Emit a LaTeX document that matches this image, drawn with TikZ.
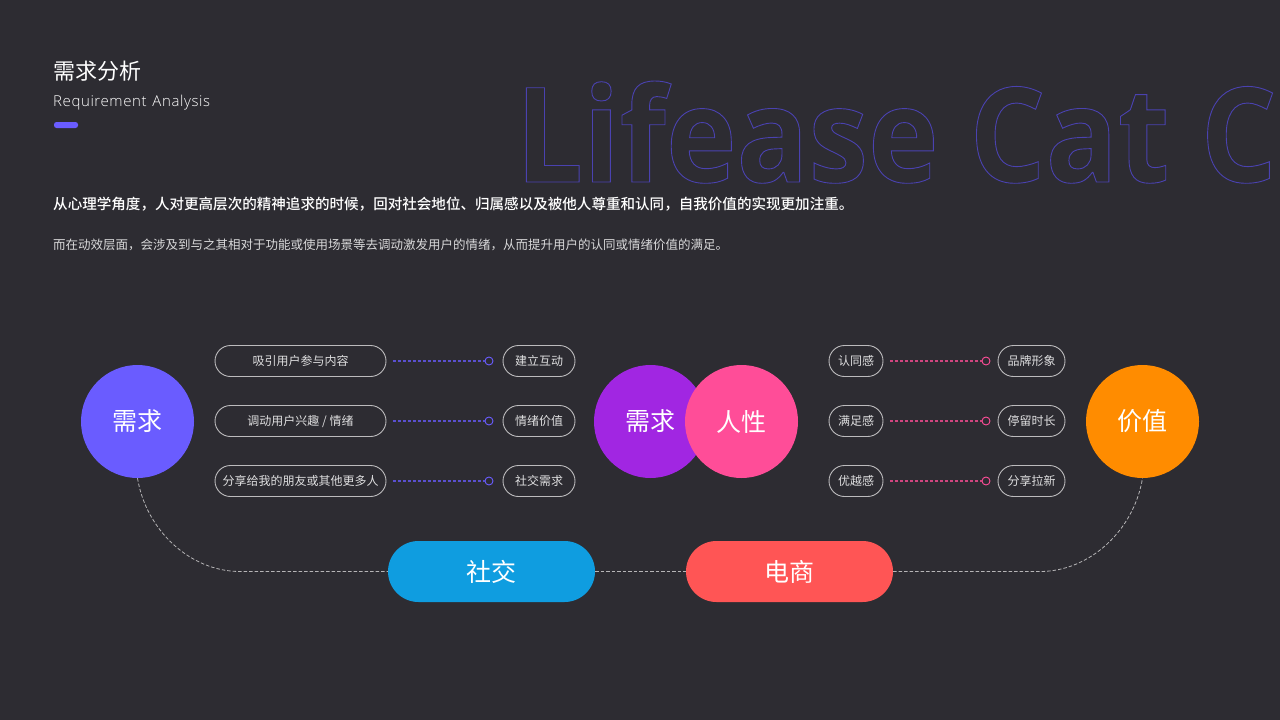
\documentclass[tikz,border=0pt]{standalone}
\usepackage{fontspec}
\setmainfont{Open Sans}
\newfontfamily\cjk{Noto Sans CJK SC}
\newfontfamily\cjkmed{Noto Sans CJK SC Medium}
\newfontfamily\latinlight[WordSpace=1.3,LetterSpace=4]{Open Sans Light}
\newfontfamily\bigfont[FakeStretch=0.905]{Open Sans Bold}
\usetikzlibrary{positioning}
\definecolor{bgdark}{HTML}{2D2C32}
\definecolor{violetblue}{HTML}{6A5CFF}
\definecolor{dashviolet}{HTML}{5A50D0}
\definecolor{purplec}{HTML}{A126E2}
\definecolor{pinkc}{HTML}{FF4D98}
\definecolor{dashpink}{HTML}{D0457F}
\definecolor{orangec}{HTML}{FF8C00}
\definecolor{bluec}{HTML}{0F9DE0}
\definecolor{redc}{HTML}{FF5555}
\definecolor{ghost}{HTML}{4A42B0}
\tikzset{
  ball/.style={circle,minimum size=113pt,inner sep=0pt,text=white,font=\cjk\fontsize{25}{30}\selectfont},
  capsule/.style={rounded corners=30.5pt,minimum width=207pt,minimum height=61pt,inner sep=0pt,text=white,font=\cjk\fontsize{25}{30}\selectfont},
  tag/.style={draw=white!68!bgdark,line width=0.9pt,rounded corners=15.5pt,minimum height=31pt,inner sep=0pt,text=white!85!bgdark,font=\cjk\fontsize{12}{14}\selectfont},
  dot/.style={circle,draw,line width=0.9pt,minimum size=8pt,inner sep=0pt},
  dashlink/.style={line width=1.1pt,dash pattern=on 3pt off 2pt},
  trail/.style={white!65!bgdark,line width=0.8pt,dash pattern=on 3.5pt off 2pt}
}
\begin{document}
\begin{tikzpicture}[x=1pt,y=-1pt]
\fill [bgdark] (0,0) rectangle (1280,720);
\useasboundingbox (0,0) rectangle (1280,720);
% header
\node (headtitle) [anchor=west,inner sep=0pt,text=white,font=\cjk\fontsize{22}{26}\selectfont] at (53,71) {需求分析};
\node (headsub) [anchor=west,inner sep=0pt,text=white,font=\latinlight\fontsize{15}{18}\selectfont] at (53,103) {Requirement Analysis};
\fill [violetblue,rounded corners=2.5pt] (54,122) rectangle (78,128);
\node (ghosttext) [anchor=base west,inner sep=0pt,text=ghost,font=\bigfont\fontsize{132}{140}\selectfont] at (515.5,182) {\special{pdf:code 1 Tr 0.9 w}Lifease Cat C\special{pdf:code 0 Tr}};
\node (bodyone) [anchor=west,inner sep=0pt,text=white,font=\cjkmed\fontsize{14.55}{18}\selectfont] at (53,204) {从心理学角度，人对更高层次的精神追求的时候，回对社会地位、归属感以及被他人尊重和认同，自我价值的实现更加注重。};
\node (bodytwo) [anchor=west,inner sep=0pt,text=white!82!bgdark,font=\cjk\fontsize{12.5}{16}\selectfont] at (53,244.5) {而在动效层面，会涉及到与之其相对于功能或使用场景等去调动激发用户的情绪，从而提升用户的认同或情绪价值的满足。};
% dashed trail below
\node (social) [capsule,fill=bluec] at (491.5,571.5) {社交};
\node (shop) [capsule,fill=redc] at (789.5,571.5) {电商};
\node (need) [ball,fill=violetblue] at (137.5,421.5) {需求};
\node (needb) [ball,fill=purplec] at (650.5,421.5) {需求};
\node (human) [ball,fill=pinkc] at (741.5,421.5) {人性};
\node (worth) [ball,fill=orangec] at (1142.5,421.5) {价值};
\draw [trail] (need.south) .. controls (146,530) and (190,571.5) .. (240,571.5) -- (social.west);
\draw [trail] (social.east) -- (shop.west);
\draw [trail] (shop.east) -- (1040,571.5) .. controls (1090,571.5) and (1134,530) .. (worth.south);
% left tags
\node (la) [tag,minimum width=171pt] at (300.5,361) {吸引用户参与内容};
\node (lb) [tag,minimum width=171pt] at (300.5,421) {调动用户兴趣 / 情绪};
\node (lc) [tag,minimum width=171pt] at (300.5,481) {分享给我的朋友或其他更多人};
\node (ra) [tag,minimum width=72pt] at (539,361) {建立互动};
\node (rb) [tag,minimum width=72pt] at (539,421) {情绪价值};
\node (rc) [tag,minimum width=72pt] at (539,481) {社交需求};
\node (da) [dot,draw=violetblue] at (489,361) {};
\node (db) [dot,draw=violetblue] at (489,421) {};
\node (dc) [dot,draw=violetblue] at (489,481) {};
\draw [dashlink,dashviolet,shorten <=7pt] (la.east) -- (da.west);
\draw [dashlink,dashviolet,shorten <=7pt] (lb.east) -- (db.west);
\draw [dashlink,dashviolet,shorten <=7pt] (lc.east) -- (dc.west);
% right tags
\node (ma) [tag,minimum width=54pt] at (856,361) {认同感};
\node (mb) [tag,minimum width=54pt] at (856,421) {满足感};
\node (mc) [tag,minimum width=54pt] at (856,481) {优越感};
\node (sa) [tag,minimum width=67pt] at (1031.5,361) {品牌形象};
\node (sb) [tag,minimum width=67pt] at (1031.5,421) {停留时长};
\node (sc) [tag,minimum width=67pt] at (1031.5,481) {分享拉新};
\node (ea) [dot,draw=pinkc] at (986,361) {};
\node (eb) [dot,draw=pinkc] at (986,421) {};
\node (ec) [dot,draw=pinkc] at (986,481) {};
\draw [dashlink,dashpink,shorten <=7pt] (ma.east) -- (ea.west);
\draw [dashlink,dashpink,shorten <=7pt] (mb.east) -- (eb.west);
\draw [dashlink,dashpink,shorten <=7pt] (mc.east) -- (ec.west);
\end{tikzpicture}
\end{document}
